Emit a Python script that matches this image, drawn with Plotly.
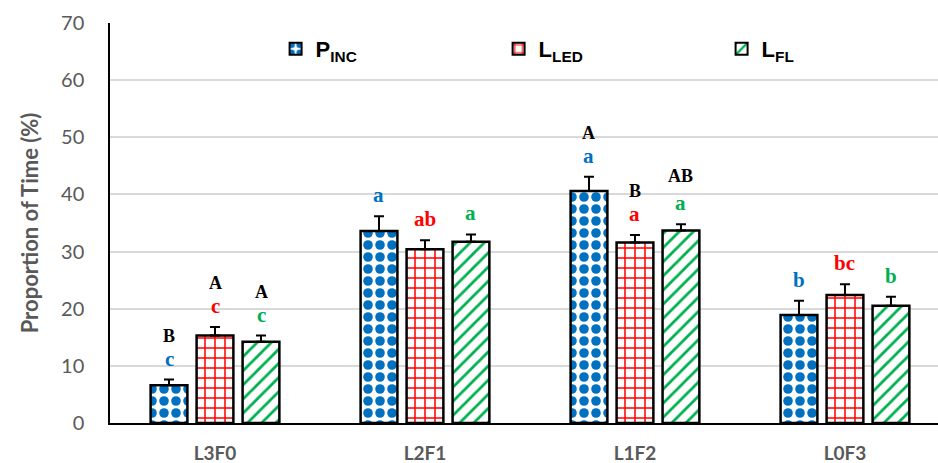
import plotly.graph_objects as go

categories = ["L3F0", "L2F1", "L1F2", "L0F3"]
series_names = ["<b>P<sub>INC</sub></b>", "<b>L<sub>LED</sub></b>", "<b>L<sub>FL</sub></b>"]
p_inc = [6.6, 33.6, 40.6, 18.9]
p_inc_err = [1.0, 2.6, 2.5, 2.5]
l_led = [15.3, 30.4, 31.6, 22.4]
l_led_err = [1.5, 1.6, 1.3, 1.9]
l_fl = [14.2, 31.7, 33.7, 20.5]
l_fl_err = [1.1, 1.3, 1.1, 1.6]
lower_letters = [["c", "a", "a", "b"], ["c", "ab", "a", "bc"], ["c", "a", "a", "b"]]
upper_letters = [["B", "", "A", ""], ["A", "", "B", ""], ["A", "", "AB", ""]]
y_ticks = [0, 10, 20, 30, 40, 50, 60, 70]

colors = ["#0070C0", "#FF0000", "#00B050"]
shapes = [".", "+", "/"]
values = [p_inc, l_led, l_fl]
errors = [p_inc_err, l_led_err, l_fl_err]

fig = go.Figure()
for k in range(3):
    fig.add_trace(go.Bar(
        x=categories, y=values[k], name=series_names[k],
        marker=dict(
            color="white",
            line=dict(color="black", width=2.5),
            pattern=dict(shape=shapes[k], fgcolor=colors[k], bgcolor="white", fgopacity=1,
                         size=12 if k == 0 else 10, solidity=0.5 if k == 0 else 0.28,
                         fillmode="overlay"),
        ),
        error_y=dict(type="data", array=errors[k], arrayminus=[0] * 4,
                     color="black", thickness=2, width=5, symmetric=False),
    ))

bargap = 0.343
slot_px = 46
annotations = []
for k in range(3):
    for i, cat in enumerate(categories):
        top = values[k][i] + errors[k][i]
        annotations.append(dict(
            x=cat, y=top, xref="x", yref="y", text=f"<b>{lower_letters[k][i]}</b>",
            showarrow=False, xshift=(k - 1) * slot_px, yshift=21, yanchor="middle",
            font=dict(family="Liberation Serif", size=21, color=colors[k])))
        if upper_letters[k][i]:
            annotations.append(dict(
                x=cat, y=top, xref="x", yref="y", text=f"<b>{upper_letters[k][i]}</b>",
                showarrow=False, xshift=(k - 1) * slot_px,
                yshift=44 if len(upper_letters[k][i]) == 1 else 48,
                yanchor="middle",
                font=dict(family="Liberation Serif", size=18, color="black")))

fig.update_layout(
    width=938, height=463,
    margin=dict(l=110, r=0, t=23, b=40, autoexpand=False),
    paper_bgcolor="white", plot_bgcolor="white",
    barmode="group", bargap=bargap, bargroupgap=0.2,
    showlegend=True,
    legend=dict(orientation="h", x=0.2, y=0.935, xanchor="left", yanchor="middle",
                entrywidth=178, entrywidthmode="pixels", bgcolor="rgba(0,0,0,0)",
                font=dict(family="Liberation Sans", size=22, color="black"),
                itemsizing="constant", itemwidth=30, tracegroupgap=0),
    annotations=annotations,
    xaxis=dict(range=[-0.5, 3.443], showline=True, linecolor="black", linewidth=1.5,
               ticks="", ticklabelstandoff=12, automargin=False,
               tickprefix="<b>", ticksuffix="</b>",
               tickfont=dict(family="Lato", size=19, color="#595959"),
               showgrid=False, zeroline=False),
    yaxis=dict(range=[0, 70], tickvals=y_ticks, showline=True, linecolor="black", linewidth=1.5,
               showgrid=True, gridcolor="#D9D9D9", gridwidth=1.5, zeroline=False,
               ticks="", ticklabelstandoff=20, automargin=False,
               tickfont=dict(family="Lato", size=20, color="#595959"),
               tickprefix="<b>", ticksuffix="</b>",
               title=dict(text="<b>Proportion of Time (%)</b>", standoff=16,
                          font=dict(family="Lato", size=22, color="#595959"))),
)

fig.write_html("out.html")
